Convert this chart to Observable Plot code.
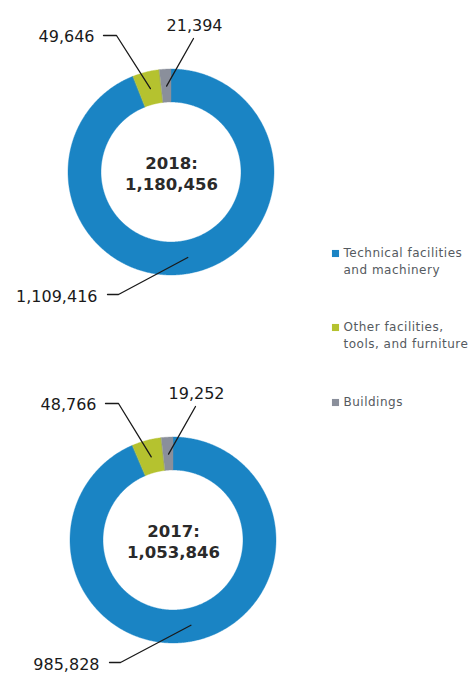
<!DOCTYPE html>
<html>
<head>
<meta charset="utf-8">
<script src="https://cdn.jsdelivr.net/npm/d3@7"></script>
<script src="https://cdn.jsdelivr.net/npm/@observablehq/plot@0.6"></script>
<style>
  html, body { margin: 0; padding: 0; background: #fff; }
  .legend-text text { letter-spacing: 0.5px; }
</style>
</head>
<body>
<div id="chart"></div>
<script>
// ---- Data ----
const categories = ["Technical facilities and machinery", "Other facilities, tools, and furniture", "Buildings"];
const legendLabels = [["Technical facilities", "and machinery"], ["Other facilities,", "tools, and furniture"], ["Buildings"]];
const years = ["2018", "2017"];
const totals = [1180456, 1053846];
const technical = [1109416, 985828];
const otherFacilities = [49646, 48766];
const buildings = [21394, 19252];
const colors = ["#1a84c4", "#b5c22f", "#8a8f9b"];

// ---- Layout ----
const W = 474, H = 675;
const centers = [[171, 172], [173, 540]];
const R = 103, r0 = 70, rMid = 86.5;
const fmt = d3.format(",");

const slices = [], leaders = [], labelsEnd = [], labelsMid = [], centerLabels = [];
years.forEach((yr, i) => {
  const [cx, cy] = centers[i];
  const vals = [technical[i], otherFacilities[i], buildings[i]];
  const sum = d3.sum(vals);
  let a = 0;
  const mids = [];
  vals.forEach((v, k) => {
    const a0 = a, a1 = a + v / sum * 2 * Math.PI;
    a = a1;
    mids.push((a0 + a1) / 2);
    const n = Math.max(2, Math.ceil((a1 - a0) / (Math.PI / 360)));
    for (let j = 0; j <= n; j++) {
      const t = a0 + (a1 - a0) * j / n;
      slices.push({key: yr + k, cat: categories[k],
        ox: cx + R * Math.sin(t), oy: cy - R * Math.cos(t),
        ix: cx + r0 * Math.sin(t), iy: cy - r0 * Math.cos(t)});
    }
  });
  const tip = m => [cx + rMid * Math.sin(m), cy - rMid * Math.cos(m)];
  // technical (bottom-left label)
  let p = tip(mids[0]);
  leaders.push({key: yr + "a", x: cx - 64, y: cy + 122}, {key: yr + "a", x: cx - 53, y: cy + 122}, {key: yr + "a", x: p[0], y: p[1]});
  labelsEnd.push({x: cx - 74, y: cy + 124, text: fmt(vals[0])});
  // other facilities (top-left label)
  p = tip(mids[1]);
  leaders.push({key: yr + "b", x: cx - 68, y: cy - 137}, {key: yr + "b", x: cx - 55, y: cy - 137}, {key: yr + "b", x: p[0], y: p[1]});
  labelsEnd.push({x: cx - 77, y: cy - 136, text: fmt(vals[1])});
  // buildings (top label)
  p = tip(mids[2]);
  leaders.push({key: yr + "c", x: cx + 22, y: cy - 134}, {key: yr + "c", x: p[0], y: p[1]});
  labelsMid.push({x: cx + 23, y: cy - 147, text: fmt(vals[2])});
  centerLabels.push({x: cx, y: cy, text: yr + ":\n" + fmt(totals[i])});
});

const legendItems = categories.map((c, k) => ({cat: c, x: 335, y: [253, 327, 402][k]}));
const legendText = [];
legendLabels.forEach((lines, k) => lines.forEach((t, j) => legendText.push({x: 343, y: legendItems[k].y + j * 17, text: t})));

const chart = Plot.plot({
  width: W, height: H,
  margin: 0,
  x: {domain: [0, W], range: [0, W], axis: null},
  y: {domain: [0, H], range: [0, H], axis: null},
  color: {domain: categories, range: colors},
  style: {fontFamily: "DejaVu Sans, Verdana, sans-serif", background: "#fff"},
  marks: [
    Plot.area(slices, {x1: "ox", y1: "oy", x2: "ix", y2: "iy", z: "key", fill: "cat", stroke: "cat", strokeWidth: 0.4}),
    Plot.line(leaders, {x: "x", y: "y", z: "key", stroke: "#1a1a1a", strokeWidth: 1.3}),
    Plot.text(labelsEnd, {x: "x", y: "y", text: "text", textAnchor: "end", fontSize: 16, fill: "#1a1a1a"}),
    Plot.text(labelsMid, {x: "x", y: "y", text: "text", textAnchor: "middle", fontSize: 16, fill: "#1a1a1a"}),
    Plot.text(centerLabels, {x: "x", y: "y", text: "text", textAnchor: "middle", lineAnchor: "middle", lineHeight: 1.33, fontSize: 16.5, fontWeight: "bold", fill: "#2a2a2a"}),
    Plot.dot(legendItems, {x: "x", y: "y", fill: "cat", symbol: "square", r: 4}),
    Plot.text(legendText, {x: "x", y: "y", text: "text", textAnchor: "start", fontSize: 12, fill: "#555a60", className: "legend-text"})
  ]
});
document.getElementById("chart").appendChild(chart);
</script>
</body>
</html>
